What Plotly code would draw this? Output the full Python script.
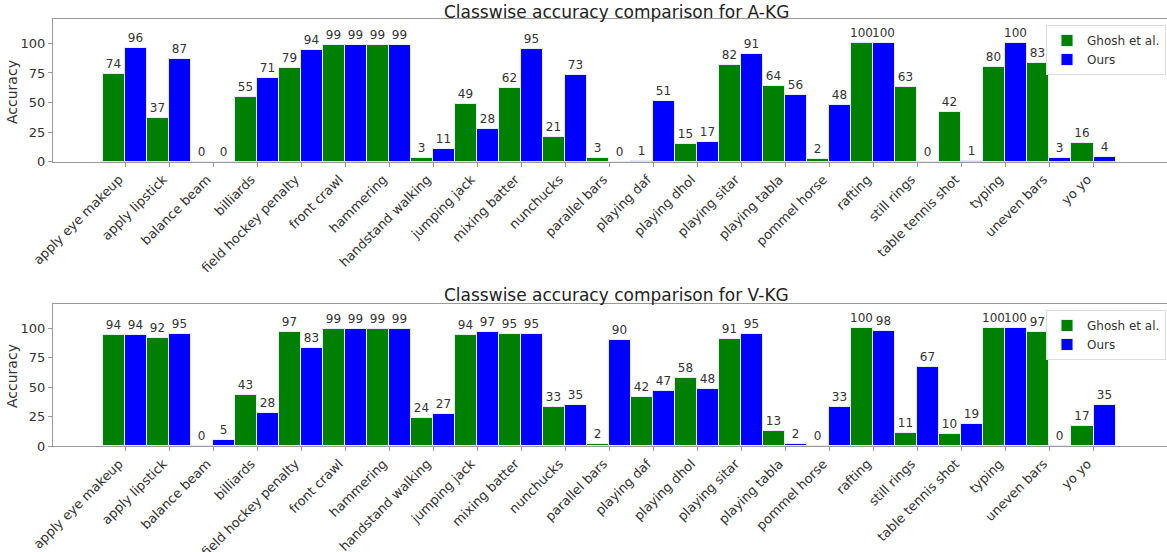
import plotly.graph_objects as go

categories = ["apply eye makeup", "apply lipstick", "balance beam", "billiards",
              "field hockey penalty", "front crawl", "hammering", "handstand walking",
              "jumping jack", "mixing batter", "nunchucks", "parallel bars",
              "playing daf", "playing dhol", "playing sitar", "playing tabla",
              "pommel horse", "rafting", "still rings", "table tennis shot",
              "typing", "uneven bars", "yo yo"]

akg_ghosh = [74, 37, 0, 55, 79, 99, 99, 3, 49, 62, 21, 3, 1, 15, 82, 64, 2, 100, 63, 42, 80, 83, 16]
akg_ours = [96, 87, 0, 71, 94, 99, 99, 11, 28, 95, 73, 0, 51, 17, 91, 56, 48, 100, 0, 1, 100, 3, 4]

vkg_ghosh = [94, 92, 0, 43, 97, 99, 99, 24, 94, 95, 33, 2, 42, 58, 91, 13, 0, 100, 11, 10, 100, 97, 17]
vkg_ours = [94, 95, 5, 28, 83, 99, 99, 27, 97, 95, 35, 90, 47, 48, 95, 2, 33, 98, 67, 19, 100, 0, 35]

titles = ["Classwise accuracy comparison for A-KG", "Classwise accuracy comparison for V-KG"]
series_names = ["Ghosh et al.", "Ours"]
colors = ["#008000", "#0000ff"]
ytick_vals = [0, 25, 50, 75, 100]

W, H = 1167, 552
FONT = "DejaVu Sans"
TXT = "#333333"

def py(px):
    return (H - px) / H

x_idx = list(range(len(categories)))

fig = go.Figure()
panels = [(akg_ghosh, akg_ours, "x", "y", "legend"), (vkg_ghosh, vkg_ours, "x2", "y2", "legend2")]
for (g, o, xa, ya, lg) in panels:
    for name, vals, col in zip(series_names, [g, o], colors):
        fig.add_trace(go.Bar(
            x=x_idx, y=vals, name=name, xaxis=xa, yaxis=ya, legend=lg,
            marker=dict(color=col, line=dict(color="#e8e8ff", width=1)),
            text=[str(v) for v in vals], textposition="outside",
            textfont=dict(family=FONT, size=12, color=TXT),
            constraintext="none", cliponaxis=False,
            offsetgroup=name,
        ))

xl, xr = 53 / W, 1.0
axis_common = dict(
    range=[-1.64, 23.67], tickmode="array", tickvals=x_idx, ticktext=categories,
    tickangle=-45, tickfont=dict(family=FONT, size=13, color=TXT),
    ticklabelshift=-6,
    showline=True, linecolor="#999999", linewidth=1.2, mirror=True,
    ticks="outside", ticklen=4, tickcolor="#999999",
    showgrid=False, zeroline=False, domain=[xl, xr], automargin=False,
)
yaxis_common = dict(
    range=[0, 120.6], tickmode="array", tickvals=ytick_vals,
    tickfont=dict(family=FONT, size=13, color=TXT),
    showline=True, linecolor="#999999", linewidth=1.2,
    ticks="outside", ticklen=4, tickcolor="#999999",
    showgrid=False, zeroline=False, automargin=False,
)

legend_common = dict(x=1046 / W, xanchor="left", yanchor="top",
                     bgcolor="rgba(255,255,255,0.9)", bordercolor="#dddddd", borderwidth=1,
                     font=dict(family=FONT, size=12, color=TXT), tracegroupgap=0,
                     itemwidth=30)

fig.update_layout(
    width=W, height=H,
    margin=dict(l=0, r=0, t=0, b=0, autoexpand=False),
    paper_bgcolor="white", plot_bgcolor="white",
    barmode="group", bargap=0, bargroupgap=0,
    font=dict(family=FONT, color=TXT),
    xaxis=dict(axis_common, anchor="y"),
    xaxis2=dict(axis_common, anchor="y2"),
    yaxis=dict(yaxis_common, domain=[py(161.7), py(19)], anchor="x"),
    yaxis2=dict(yaxis_common, domain=[py(446), py(304)], anchor="x2"),
    legend=dict(legend_common, y=py(25)),
    legend2=dict(legend_common, y=py(310)),
    showlegend=True,
)

ann = []
for t, yc in zip(titles, [12, 295]):
    ann.append(dict(text=t, x=616 / W, y=py(yc), xref="paper", yref="paper",
                    xanchor="center", yanchor="middle", showarrow=False,
                    font=dict(family=FONT, size=17, color="#222222")))
for yc in [92, 376]:
    ann.append(dict(text="Accuracy", x=12 / W, y=py(yc), xref="paper", yref="paper",
                    xanchor="center", yanchor="middle", showarrow=False, textangle=-90,
                    font=dict(family=FONT, size=14, color=TXT)))
fig.update_layout(annotations=ann)

fig.write_html("out.html", config={"displayModeBar": False},
               post_script="document.body.style.margin='0';document.body.style.overflow='hidden';")
